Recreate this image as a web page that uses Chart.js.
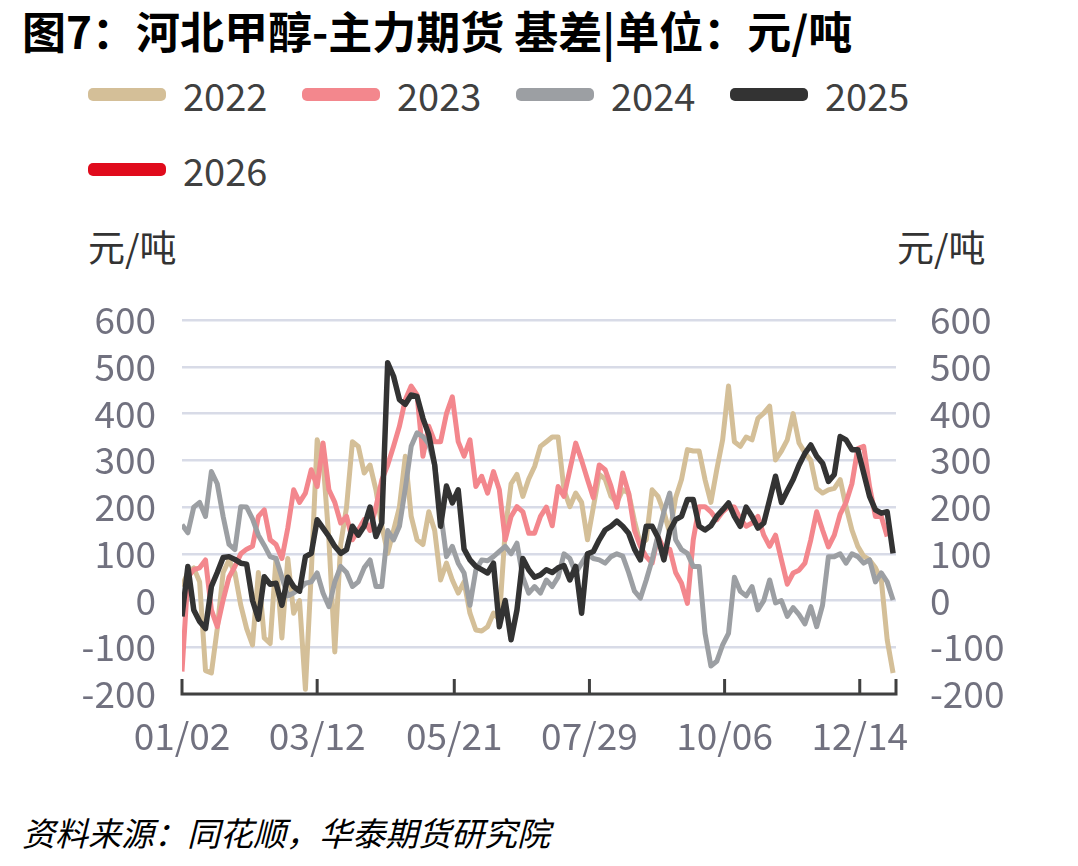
<!DOCTYPE html>
<html>
<head>
<meta charset="utf-8">
<script src="https://cdn.jsdelivr.net/npm/chart.js@4.4.1/dist/chart.umd.min.js"></script>
<style>
body{margin:0;width:1078px;height:866px;background:#fff;font-family:"Noto Sans CJK SC",sans-serif;position:relative;overflow:hidden}
#title{position:absolute;left:22px;top:6px;font-size:44px;font-weight:bold;color:#000;line-height:48px;white-space:nowrap}
#legend{position:absolute;left:88px;top:57px;width:900px;display:flex;flex-wrap:wrap}
.item{width:214px;height:75px;display:flex;align-items:center}
.sw{width:78px;height:13px;border-radius:5px;margin-right:17px}
.lt{font-size:38px;color:#404040}
.unit{position:absolute;top:224px;font-size:37px;color:#333;line-height:44px}
#src{position:absolute;left:22px;top:810px;font-size:33px;font-style:italic;line-height:44px;color:#000}
#wrap{position:absolute;left:0;top:272px;width:1078px;height:498px}
</style>
</head>
<body>
<div id="title">图7：河北甲醇-主力期货 基差|单位：元/吨</div>
<div id="legend"></div>
<div class="unit" style="left:88px">元/吨</div>
<div class="unit" style="left:897px">元/吨</div>
<div id="wrap"><canvas id="chart"></canvas></div>
<div id="src">资料来源：同花顺，华泰期货研究院</div>
<script>
// x = 距 01/02 的天数
let days = [0,3,6,9,12,15,18,21,24,27,30,33,36,39,42,45,48,51,54,57,
    60,63,66,69,72,75,78,81,84,87,90,93,96,99,102,105,108,111,114,117,
    120,123,126,129,132,135,138,141,144,147,150,153,156,159,162,165,168,171,174,177,
    180,183,186,189,192,195,198,201,204,207,210,213,216,219,222,225,228,231,234,237,
    240,243,246,249,252,255,258,261,264,267,270,273,276,279,282,285,288,291,294,297,
    300,303,306,309,312,315,318,321,324,327,330,333,336,339,342,345,348,351,354,357,
    360,363];

let tickDays = [0, 69, 139, 208, 277, 346];
let tickLabels = ["01/02", "03/12", "05/21", "07/29", "10/06", "12/14"];

let s2022 = [30,60,70,40,-150,-155,-60,60,87,59,
    -10,-60,-95,60,-80,-92,90,-80,90,-27,
    0,-190,60,344,300,130,-110,120,200,340,
    330,273,290,237,160,101,150,200,309,180,
    130,120,190,150,44,80,44,16,40,-27,
    -63,-65,-56,-27,-40,150,250,270,223,260,
    287,330,340,350,350,237,201,230,210,130,
    200,270,260,223,210,237,230,170,120,130,
    237,223,190,144,220,259,323,320,320,259,
    210,280,344,459,340,330,350,344,390,401,
    416,301,320,344,400,337,316,300,240,230,
    237,240,259,201,151,116,95,87,70,44,
    -84,-155];

let s2023 = [-152,50,66,70,87,-20,-56,1,50,73,
    100,110,116,180,194,130,120,90,155,237,
    210,230,280,244,337,237,210,166,180,130,
    151,173,150,200,258,290,330,373,430,459,
    440,309,373,340,340,400,436,340,309,344,
    244,266,230,276,237,130,180,201,190,144,
    144,180,200,160,244,223,280,337,300,259,
    220,290,280,245,200,273,230,150,116,94,
    80,137,110,110,60,37,-6,130,201,201,
    190,173,190,201,200,175,159,166,180,140,
    116,140,87,35,59,65,80,130,190,151,
    115,140,185,210,250,325,330,244,180,180,
    137,null];

let s2024 = [162,145,200,210,180,276,250,180,120,109,
    201,200,175,140,118,94,90,50,10,16,
    25,37,40,59,16,-13,40,73,60,30,
    40,70,87,30,30,150,130,159,240,330,
    359,351,335,290,190,94,116,80,59,-10,
    65,87,85,94,105,116,100,123,50,16,
    30,16,44,30,50,100,90,59,80,100,
    90,87,80,94,100,95,60,20,5,44,
    87,140,190,230,130,109,101,73,73,-70,
    -140,-130,-95,-70,50,20,10,30,-20,0,
    44,-5,0,-34,-15,-30,-50,-13,-56,-10,
    94,94,100,80,100,94,80,87,40,59,
    40,1];

let s2025 = [-34,73,-20,-45,-60,30,60,92,94,88,
    80,78,0,-40,51,35,37,-10,50,30,
    20,94,101,173,155,137,116,101,109,159,
    140,159,200,137,166,509,480,430,420,440,
    437,390,355,290,159,245,209,237,110,87,
    73,66,59,80,-56,0,-84,-20,90,66,
    50,55,66,60,70,75,44,73,-27,100,
    105,130,151,159,170,159,144,110,87,159,
    159,135,87,150,173,180,216,216,159,151,
    160,180,194,209,180,159,200,180,155,166,
    216,266,210,235,259,290,315,333,309,294,
    255,270,351,344,323,323,273,223,194,187,
    190,101];

let s2026 = [];

let series = [
    { name: "2022", values: s2022, color: "#d4bf98", width: 5, order: 4 },
    { name: "2023", values: s2023, color: "#f3878d", width: 5, order: 3 },
    { name: "2024", values: s2024, color: "#9c9fa3", width: 5, order: 2 },
    { name: "2025", values: s2025, color: "#333333", width: 5.5, order: 1 },
    { name: "2026", values: s2026, color: "#e00b1c", width: 5, order: 0 }
];

// 图例
let legend = document.getElementById("legend");
series.forEach(s => {
    legend.innerHTML += `
        <div class="item">
            <div class="sw" style="background:${s.color}"></div>
            <div class="lt">${s.name}</div>
        </div>`;
});

const font = { family: "Noto Sans CJK SC", size: 37 };
const tickColor = "#71717f";

// 底部轴线和向上的刻度
const axisTicks = {
    id: "axisTicks",
    afterDatasetsDraw(chart) {
        const { ctx, chartArea, scales } = chart;
        const x = scales.x;
        ctx.save();
        ctx.strokeStyle = "#404040";
        ctx.lineWidth = 3;
        ctx.beginPath();
        ctx.moveTo(chartArea.left - 1.5, chartArea.bottom);
        ctx.lineTo(chartArea.right + 1.5, chartArea.bottom);
        tickDays.concat([x.max]).forEach(d => {
            const px = x.getPixelForValue(d);
            ctx.moveTo(px, chartArea.bottom);
            ctx.lineTo(px, chartArea.bottom - 15);
        });
        ctx.stroke();
        ctx.restore();
    }
};

new Chart(document.getElementById("chart"), {
    type: "line",
    data: {
        datasets: series.map(s => ({
            label: s.name,
            data: s.values.map((v, i) => ({ x: days[i], y: v })),
            borderColor: s.color,
            backgroundColor: s.color,
            borderWidth: s.width,
            pointRadius: 0,
            tension: 0,
            borderJoinStyle: "round",
            order: s.order
        }))
    },
    options: {
        responsive: true,
        maintainAspectRatio: false,
        animation: false,
        layout: { padding: { top: 30, left: 0, right: 0, bottom: 0 } },
        plugins: { legend: { display: false }, tooltip: { enabled: false } },
        scales: {
            x: {
                type: "linear",
                min: 0,
                max: 364.5,
                afterBuildTicks: s => { s.ticks = tickDays.map(v => ({ value: v })); },
                afterFit: s => { s.height = 76; },
                ticks: {
                    autoSkip: false,
                    maxRotation: 0,
                    padding: 12,
                    color: tickColor,
                    font: font,
                    callback: (v, i) => tickLabels[i]
                },
                grid: { display: false },
                border: { display: false }
            },
            y: {
                position: "left",
                min: -200,
                max: 600,
                afterFit: s => { s.width = 182; },
                ticks: { stepSize: 100, autoSkip: false, padding: 26, color: tickColor, font: font },
                grid: { color: "#d8dbe7", lineWidth: 2.5, drawTicks: false },
                border: { display: false }
            },
            y1: {
                position: "right",
                min: -200,
                max: 600,
                afterFit: s => { s.width = 182; },
                ticks: { stepSize: 100, autoSkip: false, padding: 26, color: tickColor, font: font },
                grid: { display: false },
                border: { display: false }
            }
        }
    },
    plugins: [axisTicks]
});
</script>
</body>
</html>
